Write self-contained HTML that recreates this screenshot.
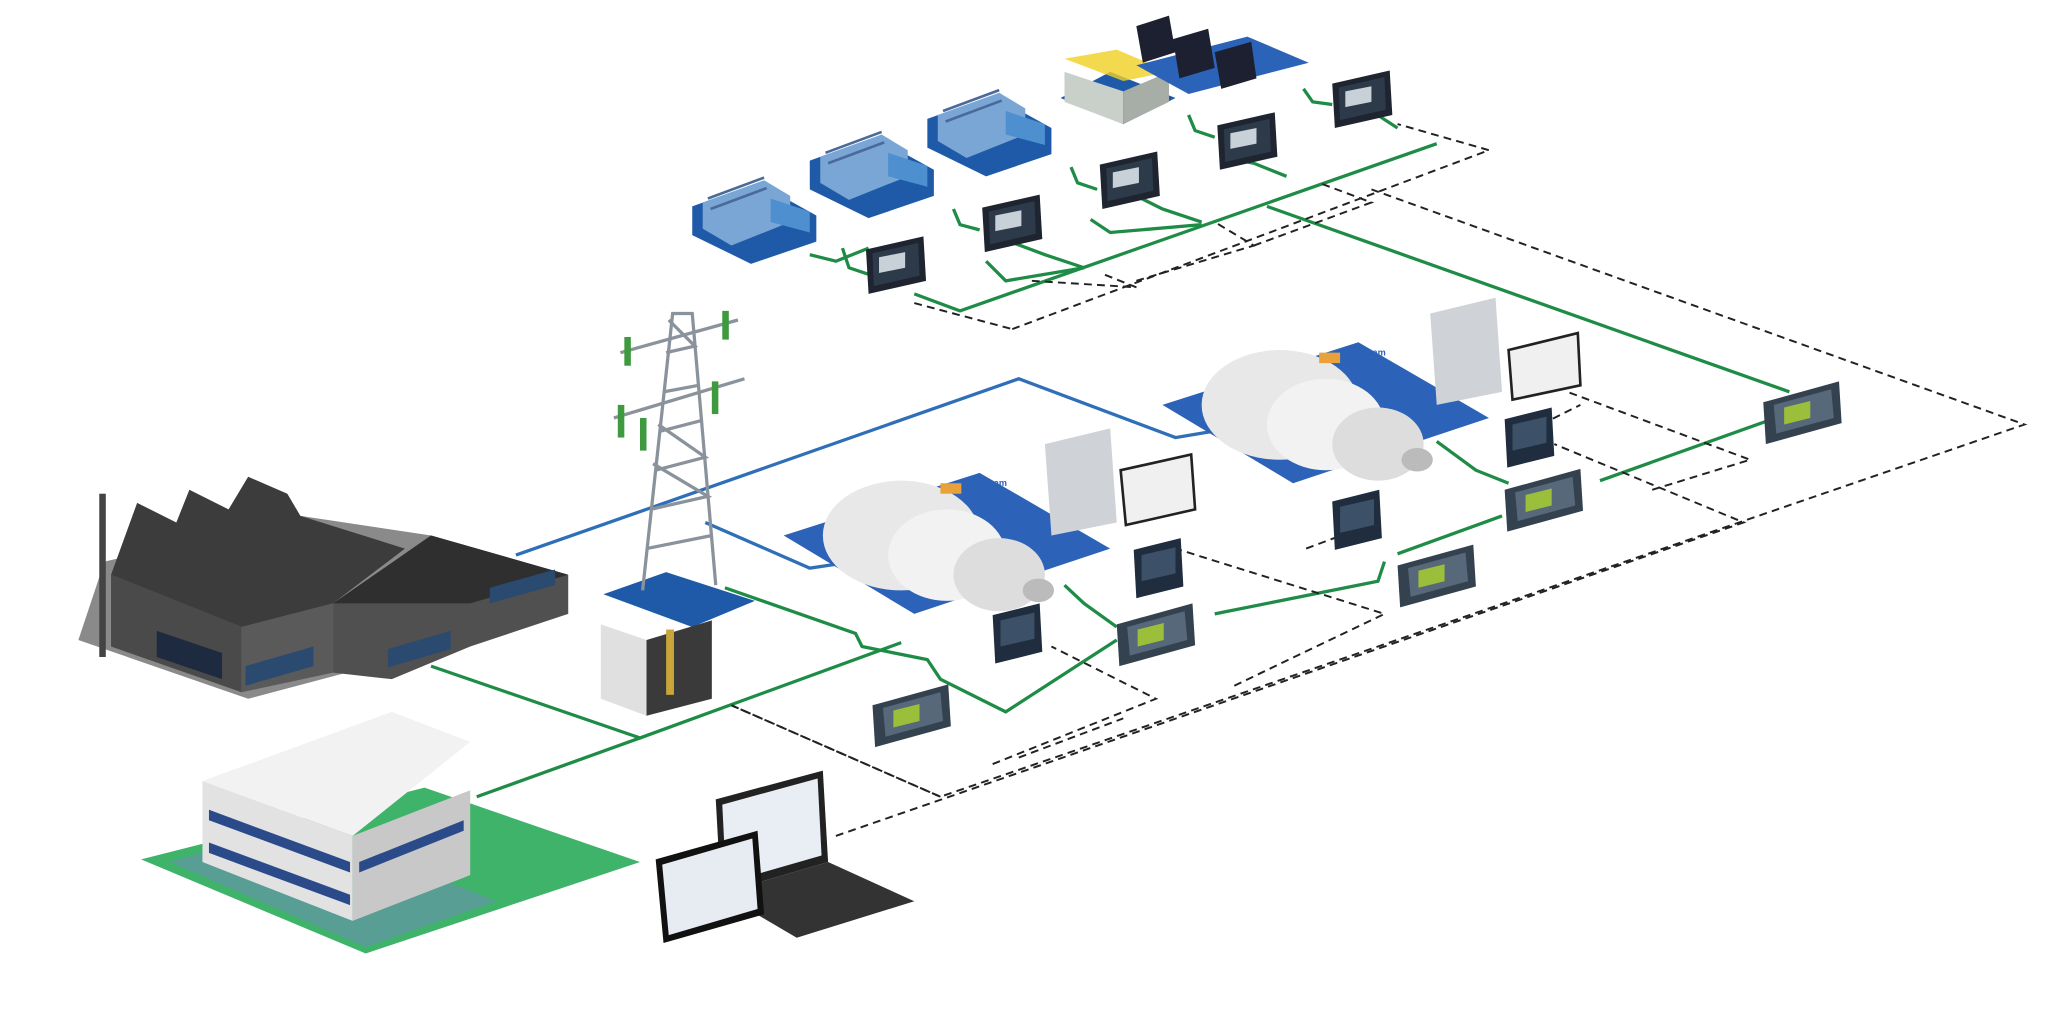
<!DOCTYPE html>
<html><head><meta charset="utf-8"><style>html,body{margin:0;padding:0;background:#fff}svg{display:block}</style></head>
<body>
<svg width="2048" height="1024" viewBox="0 0 1568 784" preserveAspectRatio="none" xmlns="http://www.w3.org/2000/svg" font-family="Liberation Sans, sans-serif">
<defs>
<g id="ctl"><polygon points="0,6 44,-4 46,30 2,40" fill="#1e2530"/><polygon points="5,9 40,1 41,26 6,34" fill="#2d3a4a"/><polygon points="10,12 30,8 30,20 10,24" fill="#c8d0d8"/></g>
<g id="pp"><polygon points="0,10 58,-6 60,26 2,42" fill="#34414f"/><polygon points="8,12 52,0 54,22 10,34" fill="#56687a"/><polygon points="16,14 36,9 36,22 16,27" fill="#9bbf3a"/></g>
<g id="sc"><polygon points="0,6 36,-3 38,34 2,43" fill="#1f2d3e"/><polygon points="6,10 32,4 32,24 6,30" fill="#3c5068"/></g>
<g id="eng"><polygon points="0,28 50,10 95,35 95,55 45,72 0,50" fill="#1e5aa8"/><polygon points="8,25 55,8 75,20 75,40 30,58 8,45" fill="#7aa6d6"/><polygon points="60,22 90,32 90,48 60,40" fill="#4d8fcf"/><path d="M12,22 L55,6 M14,30 L57,14" stroke="#4a6a9a" stroke-width="2"/></g>
<g id="tur"><polygon points="0,30 150,-18 250,40 100,90" fill="#2c63b8"/><ellipse cx="90" cy="30" rx="60" ry="42" fill="#e8e8e8"/><ellipse cx="125" cy="45" rx="45" ry="35" fill="#f2f2f2"/><ellipse cx="165" cy="60" rx="35" ry="28" fill="#ddd"/><ellipse cx="195" cy="72" rx="12" ry="9" fill="#bbb"/><text x="150" y="-8" font-size="7" fill="#2c63b8" font-weight="bold">Steam</text><rect x="120" y="-10" width="16" height="8" fill="#e9a23b"/></g>
</defs>
<g stroke="#1e8c46" stroke-width="2.5" fill="none">
<path d="M1100,110 L735,238 L700,225"/><path d="M665,190 L640,200 L620,195"/>
<path d="M755,200 L770,215 L830,205 L800,195 L760,180"/><path d="M835,168 L850,178 L920,172"/>
<path d="M920,170 L890,160 L870,150"/><path d="M985,135 L960,125 L935,120"/><path d="M1070,98 L1050,85 L1040,80"/>
<path d="M910,88 L915,100 L930,105"/><path d="M998,68 L1005,78 L1020,80"/><path d="M820,128 L825,140 L840,145"/><path d="M730,160 L735,172 L750,176"/><path d="M645,190 L650,205 L665,210"/>
<path d="M970,158 L1370,300"/><path d="M1365,318 L1225,368"/><path d="M1150,395 L1070,424"/><path d="M1060,430 L1055,445 L930,470"/>
<path d="M1100,338 L1130,360 L1155,370"/><path d="M815,448 L830,462 L855,480"/>
<path d="M330,510 L490,565 L690,492"/><path d="M490,565 L365,610"/>
<path d="M555,450 L655,485 L660,495 L710,505 L720,520 L770,545 L855,490"/>
</g>
<g stroke="#2f6fb8" stroke-width="2.5" fill="none">
<path d="M395,425 L780,290 L900,335 L930,330"/><path d="M540,400 L620,435 L640,432"/>
</g>
<g stroke="#222" stroke-width="1.5" stroke-dasharray="6,4" fill="none">
<path d="M775,252 L1140,115 L1070,95"/><path d="M700,232 L775,252"/><path d="M790,215 L870,220 L845,210"/><path d="M870,215 L960,188 L930,170"/><path d="M960,188 L1050,155 L1010,140"/>
<path d="M1050,145 L1550,325 L720,610 L640,575 L560,540"/>
<path d="M640,640 L1335,400 L1190,340"/><path d="M1265,375 L1340,352 L1200,300"/><path d="M1180,325 L1210,310"/>
<path d="M760,585 L885,535 L805,495"/><path d="M945,525 L1060,470 L900,420"/><path d="M1000,420 L1040,405"/>
<path d="M780,580 L860,550"/><path d="M560,540 L720,610"/>
</g>
<polygon points="60,490 190,535 435,470 435,440 330,410 230,395 80,430" fill="#8a8a8a"/>
<polygon points="85,440 185,480 185,530 85,495" fill="#4a4a4a"/>
<polygon points="185,480 255,462 255,515 185,530" fill="#5a5a5a"/>
<polygon points="85,440 105,385 135,400 145,375 175,390 190,365 220,378 230,395 310,420 255,462 185,480" fill="#3c3c3c"/>
<polygon points="255,462 330,410 435,440 435,470 360,495 300,520 255,515" fill="#505050"/>
<polygon points="255,462 330,410 435,440 360,462" fill="#2f2f2f"/>
<rect x="76" y="378" width="5" height="125" fill="#444"/>
<polygon points="120,483 170,500 170,520 120,503" fill="#1e2a40"/>
<polygon points="188,510 240,495 240,510 188,525" fill="#2a4a70"/>
<polygon points="297,497 345,483 345,497 297,511" fill="#2a4a70"/>
<polygon points="375,450 425,436 425,448 375,462" fill="#2a4a70"/>
<polygon points="108,658 280,730 490,660 325,603" fill="#3fb36a"/>
<polygon points="130,660 280,725 380,690 230,630" fill="#6a8fb0" opacity="0.6"/>
<polygon points="155,598 270,640 270,705 155,660" fill="#e2e2e2"/>
<polygon points="270,640 360,605 360,670 270,705" fill="#c8c8c8"/>
<polygon points="155,598 300,545 360,568 270,640" fill="#f2f2f2"/>
<polygon points="160,620 268,660 268,668 160,628" fill="#2a4a8a"/>
<polygon points="160,645 268,685 268,693 160,653" fill="#2a4a8a"/>
<polygon points="275,660 355,628 355,636 275,668" fill="#2a4a8a"/>
<polygon points="462,455 530,480 578,460 510,438" fill="#1e5aa8"/>
<g stroke="#8a939c" stroke-width="2.5" fill="none">
<path d="M492,452 L515,240 L530,240 L548,448"/>
<path d="M495,420 L545,410 M498,390 L542,380 L500,355 M502,360 L540,350 L504,325 M506,330 L537,322 M508,300 L535,295 M510,270 L532,265 L512,245"/>
<path d="M470,320 L570,290 M475,270 L565,245"/>
</g>
<g fill="#3f9a3f"><rect x="478" y="258" width="5" height="22"/><rect x="553" y="238" width="5" height="22"/><rect x="473" y="310" width="5" height="25"/><rect x="545" y="292" width="5" height="25"/><rect x="490" y="320" width="5" height="25"/></g>
<polygon points="460,478 495,490 495,548 460,535" fill="#e0e0e0"/><polygon points="495,490 545,475 545,535 495,548" fill="#3a3a3a"/><rect x="510" y="482" width="6" height="50" fill="#c8a63a"/>
<use href="#tur" x="600" y="380"/><use href="#tur" x="890" y="280"/>
<polygon points="800,340 850,328 855,400 805,410" fill="#cfd2d6"/><polygon points="858,360 912,348 915,390 862,402" fill="#f0f0f0" stroke="#222" stroke-width="2"/>
<polygon points="1095,240 1145,228 1150,300 1100,310" fill="#cfd2d6"/><polygon points="1155,268 1208,255 1210,295 1158,306" fill="#f0f0f0" stroke="#222" stroke-width="2"/>
<use href="#eng" x="530" y="130"/><use href="#eng" x="620" y="95"/><use href="#eng" x="710" y="63"/>
<polygon points="812,75 860,95 900,75 850,55" fill="#1e5aa8"/><polygon points="815,55 860,70 860,95 815,78" fill="#c9cfc9"/><polygon points="860,70 895,55 895,78 860,95" fill="#a7ada7"/><polygon points="815,45 855,38 895,55 860,62" fill="#f0d020" opacity="0.8"/>
<polygon points="870,50 910,72 1002,48 955,28" fill="#2b63b8"/>
<polygon points="870,20 895,12 900,40 875,48" fill="#1c2030"/><polygon points="898,30 925,22 930,52 903,60" fill="#1c2030"/><polygon points="930,40 958,32 962,60 935,68" fill="#1c2030"/>
<use href="#ctl" x="663" y="185"/><use href="#ctl" x="752" y="153"/><use href="#ctl" x="842" y="120"/><use href="#ctl" x="932" y="90"/><use href="#ctl" x="1020" y="58"/>
<use href="#sc" x="760" y="465"/><use href="#sc" x="868" y="415"/><use href="#sc" x="1020" y="378"/><use href="#sc" x="1152" y="315"/>
<use href="#pp" x="668" y="530"/><use href="#pp" x="855" y="468"/><use href="#pp" x="1070" y="423"/><use href="#pp" x="1152" y="365"/><use href="#pp" x="1350" y="298"/>
<polygon points="548,612 630,590 634,660 552,684" fill="#222"/><polygon points="553,616 626,596 629,655 556,676" fill="#e8eef4"/>
<polygon points="552,684 634,660 700,690 610,718" fill="#333"/>
<polygon points="502,658 580,636 585,700 508,722" fill="#111"/><polygon points="507,662 576,642 580,696 512,716" fill="#e6ecf2"/>
</svg>
</body></html>
